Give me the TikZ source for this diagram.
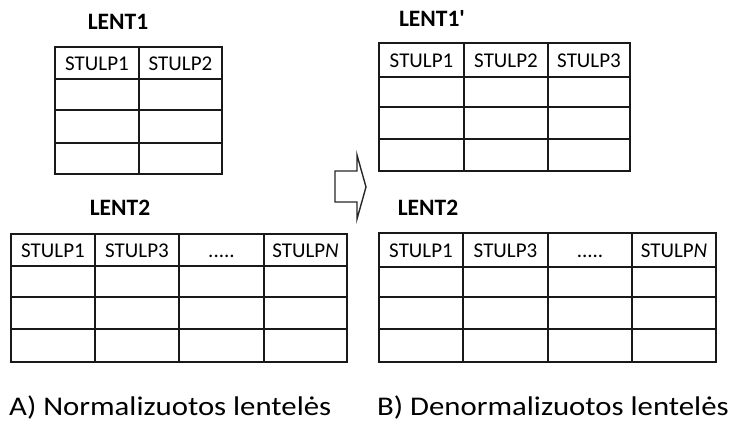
\documentclass[tikz,border=0pt]{standalone}
\usepackage{fontspec}
\setmainfont{Carlito}
\newcommand{\widecaption}[1]{\scalebox{1.14}[1]{#1}}
\begin{document}
\begin{tikzpicture}[x=1pt,y=-1pt,
  rule/.style={line width=1.8pt, draw=black!90, line cap=rect},
  head/.style={font=\fontsize{21}{21}\selectfont, inner sep=0pt, text height=13.5pt, text depth=0pt},
  title/.style={font=\fontsize{23.5}{23.5}\selectfont\bfseries, inner sep=0pt},
  caption/.style={font=\fontsize{27}{27}\selectfont, inner sep=0pt, anchor=base west},
  blockarrow/.style={line width=1.4pt, draw=black!85, line join=miter}]
\useasboundingbox (0,0) rectangle (731,421);

% ---- LENT1 (top left) ----
\node[title] (lent1) at (118,22) {LENT1};
\foreach \y in {47,79,110,143,174} \draw[rule] (55,\y) -- (222,\y);
\foreach \x in {55,139,222} \draw[rule] (\x,47) -- (\x,174);
\node[head] (l1c1) at (97,64) {STULP1};
\node[head] (l1c2) at (180.5,64) {STULP2};

% ---- LENT2 (bottom left) ----
\node[title] (lent2a) at (120,208) {LENT2};
\foreach \y in {234,266,297,329,362} \draw[rule] (11,\y) -- (347,\y);
\foreach \x in {11,95,179,264,347} \draw[rule] (\x,234) -- (\x,362);
\node[head] (l2c1) at (53,251) {STULP1};
\node[head] (l2c2) at (137,251) {STULP3};
\node[head] (l2c3) at (221.5,251) {.....};
\node[head] (l2c4) at (305.5,251) {STULP\textit{N}};

% ---- LENT1' (top right) ----
\node[title] (lent1b) at (432,18) {LENT1\textquotesingle};
\foreach \y in {43,77,107,139,171} \draw[rule] (379,\y) -- (630,\y);
\foreach \x in {379,464,548,630} \draw[rule] (\x,43) -- (\x,171);
\node[head] (r1c1) at (421.5,61) {STULP1};
\node[head] (r1c2) at (506,61) {STULP2};
\node[head] (r1c3) at (589,61) {STULP3};

% ---- LENT2 (bottom right) ----
\node[title] (lent2b) at (428,208) {LENT2};
\foreach \y in {233,267,297,329,362} \draw[rule] (379,\y) -- (716,\y);
\foreach \x in {379,463,548,632,716} \draw[rule] (\x,233) -- (\x,362);
\node[head] (r2c1) at (421,251) {STULP1};
\node[head] (r2c2) at (505.5,251) {STULP3};
\node[head] (r2c3) at (590,251) {.....};
\node[head] (r2c4) at (674,251) {STULP\textit{N}};

% ---- transformation arrow ----
\draw[blockarrow] (335,171) -- (357,171) -- (357,155) -- (366,187)
  -- (357,219) -- (357,202) -- (335,202) -- cycle;

% ---- captions ----
\node[caption] (capA) at (9,415) {\widecaption{A) Normalizuotos lentelės}};
\node[caption] (capB) at (377,415) {\widecaption{B) Denormalizuotos lentelės}};
\end{tikzpicture}
\end{document}
